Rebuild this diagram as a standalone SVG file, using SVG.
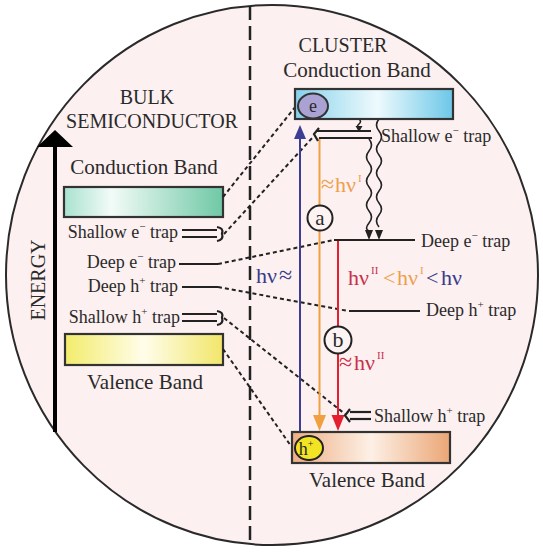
<svg xmlns="http://www.w3.org/2000/svg" width="543" height="554" viewBox="0 0 543 554">
<defs>
<linearGradient id="gGreen" x1="0" y1="0" x2="1" y2="0">
<stop offset="0" stop-color="#a9e2cf"/><stop offset="0.3" stop-color="#f2fbf7"/><stop offset="1" stop-color="#6fc8a6"/>
</linearGradient>
<linearGradient id="gYellow" x1="0" y1="0" x2="1" y2="0">
<stop offset="0" stop-color="#f3ec6c"/><stop offset="0.5" stop-color="#fffdea"/><stop offset="1" stop-color="#f2e66a"/>
</linearGradient>
<linearGradient id="gBlue" x1="0" y1="0" x2="1" y2="0">
<stop offset="0" stop-color="#86d1ec"/><stop offset="0.52" stop-color="#eefafd"/><stop offset="1" stop-color="#6cc7e8"/>
</linearGradient>
<linearGradient id="gOrange" x1="0" y1="0" x2="1" y2="0">
<stop offset="0" stop-color="#eeae84"/><stop offset="0.5" stop-color="#fdf0e6"/><stop offset="1" stop-color="#eba676"/>
</linearGradient>
<style>
text{font-family:"Liberation Serif","Times New Roman",serif;fill:#2a2a2a}
.band{stroke:#333;stroke-width:2.2}
.lvl{stroke:#222;stroke-width:2.2;fill:none}
.dash{stroke:#222;stroke-width:2;stroke-dasharray:4 3;fill:none}
.wave{stroke:#222;stroke-width:1.6;fill:none}
.lbl{font-size:18px}
.big{font-size:21px}
.sup{font-size:11px}
.red{fill:#c8304a}
.org{fill:#ee9f4e}
.blu{fill:#3a3a8a}
</style>
</defs>

<g id="background">
<ellipse cx="272" cy="275" rx="266" ry="270" fill="#fcf0f0" stroke="#2a2a2a" stroke-width="2"/>
<line x1="250" y1="6" x2="250" y2="546" stroke="#222" stroke-width="2.5" stroke-dasharray="14 6"/>
</g>

<g id="energy-axis">
<line x1="55" y1="145" x2="55" y2="432" stroke="#000" stroke-width="4"/>
<polygon points="37,147 73,147 55,130" fill="#000"/>
<text transform="translate(45,280) rotate(-90)" text-anchor="middle" font-size="20">ENERGY</text>
</g>

<g id="bulk-title">
<text x="147" y="104" text-anchor="middle" font-size="20">BULK</text>
<text x="152" y="128" text-anchor="middle" font-size="20">SEMICONDUCTOR</text>
</g>

<g id="bulk-cb">
<text x="144" y="174" text-anchor="middle" class="big">Conduction Band</text>
<rect x="64" y="187" width="159" height="30" fill="url(#gGreen)" class="band"/>
</g>

<g id="bulk-shallow-e">
<text x="178" y="238" text-anchor="end" class="lbl">Shallow e<tspan class="sup" dy="-8">−</tspan><tspan dy="8"> trap</tspan></text>
<line x1="182" y1="230" x2="217" y2="230" class="lvl" stroke-width="1.8"/>
<line x1="182" y1="237" x2="217" y2="237" class="lvl" stroke-width="1.8"/>
<path d="M217,227 Q224,228 222,233.5 Q224,240 217,241" class="lvl" stroke-width="1.5"/>
</g>

<g id="bulk-deep-e">
<text x="176" y="268" text-anchor="end" class="lbl">Deep e<tspan class="sup" dy="-8">−</tspan><tspan dy="8"> trap</tspan></text>
<line x1="179" y1="264" x2="218" y2="264" class="lvl"/>
</g>

<g id="bulk-deep-h">
<text x="178" y="292" text-anchor="end" class="lbl">Deep h<tspan class="sup" dy="-8">+</tspan><tspan dy="8"> trap</tspan></text>
<line x1="182" y1="287" x2="218" y2="287" class="lvl"/>
</g>

<g id="bulk-shallow-h">
<text x="180" y="323" text-anchor="end" class="lbl">Shallow h<tspan class="sup" dy="-8">+</tspan><tspan dy="8"> trap</tspan></text>
<line x1="182" y1="314" x2="217" y2="314" class="lvl" stroke-width="1.8"/>
<line x1="182" y1="321" x2="217" y2="321" class="lvl" stroke-width="1.8"/>
<path d="M217,311 Q224,312 222,317.5 Q224,324 217,325" class="lvl" stroke-width="1.5"/>
</g>

<g id="bulk-vb">
<rect x="65" y="334" width="158" height="31" fill="url(#gYellow)" class="band"/>
<text x="145" y="389" text-anchor="middle" class="big">Valence Band</text>
</g>

<g id="cluster-title">
<text x="343" y="52" text-anchor="middle" font-size="20">CLUSTER</text>
<text x="357" y="77" text-anchor="middle" class="big">Conduction Band</text>
</g>

<g id="connectors">
<line x1="223" y1="197" x2="296" y2="106" class="dash"/>
<line x1="224" y1="234" x2="314" y2="136" class="dash"/>
<line x1="218" y1="264" x2="334" y2="240" class="dash"/>
<line x1="218" y1="287" x2="348" y2="311" class="dash"/>
<line x1="224" y1="318" x2="345" y2="414" class="dash"/>
<line x1="223" y1="349" x2="291" y2="446" class="dash"/>
<line x1="300" y1="137" x2="300" y2="432" stroke="#3d3d96" stroke-width="2"/>
<polygon points="294,139 306,139 300,125" fill="#3d3d96"/>
<line x1="319.5" y1="138" x2="319.5" y2="418" stroke="#f0a040" stroke-width="2"/>
<polygon points="313,415 326,415 319.5,431" fill="#f0a040"/>
<line x1="338" y1="240" x2="338" y2="418" stroke="#e42030" stroke-width="2"/>
<polygon points="331.5,415 344.5,415 338,431" fill="#e42030"/>
<path d="M359,119 q3,2.5 0,5 t0,4" class="wave"/>
<polygon points="355.5,126 362.5,126 359,132" fill="#222"/>
<path d="M369,139 q5,6 0,12 t0,12 t0,12 t0,12 t0,12 t0,12 t0,12 t0,8" class="wave"/>
<polygon points="365,230 373,230 369,240" fill="#222"/>
<path d="M379,119 q-5,6 0,12 t0,12 t0,12 t0,12 t0,12 t0,12 t0,12 t0,12 t0,12" class="wave"/>
<polygon points="375,230 383,230 379,240" fill="#222"/>
</g>

<g id="cluster-cb">
<rect x="295" y="89" width="158" height="30" fill="url(#gBlue)" class="band"/>
<ellipse cx="313" cy="106" rx="15" ry="12.5" fill="#a9a2d2" stroke="#333" stroke-width="2"/>
<text x="313" y="112" text-anchor="middle" font-size="18" fill="#3a3a5a">e</text>
</g>

<g id="cluster-shallow-e">
<line x1="317" y1="131" x2="371" y2="131" class="lvl" stroke-width="1.8"/>
<line x1="319" y1="138" x2="372" y2="138" class="lvl" stroke-width="1.8"/>
<path d="M319,128 L314,134 L318,141" class="lvl" stroke-width="1.5"/>
<text x="381" y="142" class="lbl">Shallow e<tspan class="sup" dy="-8">−</tspan><tspan dy="8"> trap</tspan></text>
</g>

<g id="cluster-deep-e">
<line x1="334" y1="240" x2="415" y2="240" class="lvl" stroke-width="2.5"/>
<text x="421" y="247" class="lbl">Deep e<tspan class="sup" dy="-8">−</tspan><tspan dy="8"> trap</tspan></text>
</g>

<g id="cluster-deep-h">
<line x1="349" y1="311" x2="420" y2="311" class="lvl" stroke-width="2.5"/>
<text x="426" y="316" class="lbl">Deep h<tspan class="sup" dy="-8">+</tspan><tspan dy="8"> trap</tspan></text>
</g>

<g id="cluster-shallow-h">
<line x1="350" y1="412" x2="371" y2="412" class="lvl" stroke-width="1.8"/>
<line x1="350" y1="419" x2="371" y2="419" class="lvl" stroke-width="1.8"/>
<path d="M350,409 L345,415.5 L350,422" class="lvl" stroke-width="1.5"/>
<text x="374" y="422" class="lbl">Shallow h<tspan class="sup" dy="-8">+</tspan><tspan dy="8"> trap</tspan></text>
</g>

<g id="cluster-vb">
<rect x="292" y="432" width="158" height="31" fill="url(#gOrange)" class="band"/>
<ellipse cx="309" cy="448" rx="14" ry="12" fill="#f2e424" stroke="#222" stroke-width="2"/>
<text x="306" y="455" text-anchor="middle" font-size="18">h<tspan font-size="10" dy="-8">+</tspan></text>
<text x="367" y="487" text-anchor="middle" class="big">Valence Band</text>
</g>

<g id="label-a">
<circle cx="320" cy="218" r="12.5" fill="#fdf3f3" stroke="#222" stroke-width="2"/>
<text x="320" y="225" text-anchor="middle" font-size="21">a</text>
</g>

<g id="label-b">
<circle cx="338" cy="340" r="13.5" fill="#fdf3f3" stroke="#222" stroke-width="2"/>
<text x="338" y="347" text-anchor="middle" font-size="22">b</text>
</g>

<g id="photon-labels">
<text y="192" font-size="22" class="org"><tspan x="321" font-size="24">≈</tspan><tspan x="335">hν</tspan><tspan x="358" class="sup org" dy="-10">I</tspan></text>
<text y="283" font-size="22" class="blu"><tspan x="256">hν</tspan><tspan x="279" font-size="24">≈</tspan></text>
<text y="370" font-size="22" class="red"><tspan x="339" font-size="24">≈</tspan><tspan x="354">hν</tspan><tspan x="377" class="sup red" dy="-11">II</tspan></text>
<text y="285" font-size="22"><tspan x="348" class="red">hν</tspan><tspan x="371" class="sup red" dy="-11">II</tspan><tspan x="383" dy="11" class="org">&lt;</tspan><tspan x="397" class="org">hν</tspan><tspan x="420" class="sup org" dy="-11">I</tspan><tspan x="426" dy="11" class="blu">&lt;</tspan><tspan x="441" class="blu">hν</tspan></text>
</g>
</svg>
